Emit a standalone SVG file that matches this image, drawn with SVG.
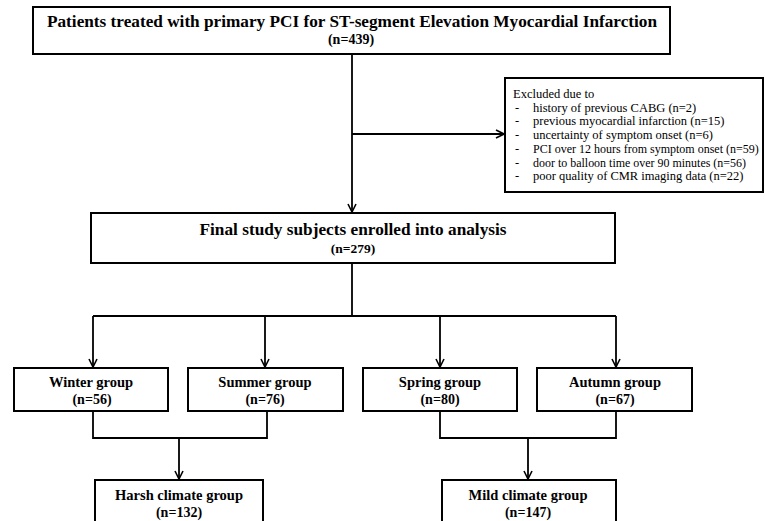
<svg xmlns="http://www.w3.org/2000/svg" width="765" height="521" viewBox="0 0 765 521">
<defs>
<marker id="arr" viewBox="0 0 10 10" refX="9" refY="5" markerWidth="10" markerHeight="10" markerUnits="userSpaceOnUse" orient="auto">
<path d="M1,1 L9,5 L1,9" fill="none" stroke="#000" stroke-width="1.6"/>
</marker>
<style>
.box{fill:#fff;stroke:#000;stroke-width:2}
.ln{fill:none;stroke:#000;stroke-width:1.8}
.t{font-family:"Liberation Serif","Times New Roman",serif;font-weight:bold;text-anchor:middle;fill:#000}
.x{font-family:"Liberation Serif","Times New Roman",serif;font-size:12.5px;fill:#000}
</style>
</defs>
<rect width="765" height="521" fill="#fff"/>
<g id="connectors">
<path class="ln" d="M352,54 V212" marker-end="url(#arr)"/>
<path class="ln" d="M352,134 H504" marker-end="url(#arr)"/>
<path class="ln" d="M352,263 V316"/>
<path class="ln" d="M93,316 H616"/>
<path class="ln" d="M93,316 V367" marker-end="url(#arr)"/>
<path class="ln" d="M265,316 V367" marker-end="url(#arr)"/>
<path class="ln" d="M440,316 V367" marker-end="url(#arr)"/>
<path class="ln" d="M616,316 V367" marker-end="url(#arr)"/>
<path class="ln" d="M93,411 V438 H267 V411"/>
<path class="ln" d="M179,438 V479" marker-end="url(#arr)"/>
<path class="ln" d="M440,411 V438 H616 V411"/>
<path class="ln" d="M528,438 V479" marker-end="url(#arr)"/>
</g>
<g id="top">
<rect class="box" x="33" y="7" width="637" height="47"/>
<text class="t" x="352" y="27" font-size="16.5" textLength="610" lengthAdjust="spacingAndGlyphs">Patients treated with primary PCI for ST-segment Elevation Myocardial Infarction</text>
<text class="t" x="351" y="44" font-size="14">(n=439)</text>
</g>
<g id="excluded">
<rect class="box" x="505" y="78" width="258" height="114"/>
<text class="x" x="513" y="98">Excluded  due to</text>
<text class="x" x="515" y="111.7">-</text><text class="x" x="533" y="111.7">history of previous CABG  (n=2)</text>
<text class="x" x="515" y="125.4">-</text><text class="x" x="533" y="125.4">previous myocardial  infarction (n=15)</text>
<text class="x" x="515" y="139">-</text><text class="x" x="533" y="139">uncertainty of  symptom  onset (n=6)</text>
<text class="x" x="515" y="152.8">-</text><text class="x" x="533" y="152.8" style="font-size:12px">PCI over 12 hours from symptom onset (n=59)</text>
<text class="x" x="515" y="166.5">-</text><text class="x" x="533" y="166.5" textLength="213" lengthAdjust="spacingAndGlyphs">door to balloon  time  over 90 minutes (n=56)</text>
<text class="x" x="515" y="180.2">-</text><text class="x" x="533" y="180.2">poor quality of CMR imaging  data (n=22)</text>
</g>
<g id="final">
<rect class="box" x="91" y="213" width="524" height="50"/>
<text class="t" x="353" y="235" font-size="16" textLength="307" lengthAdjust="spacingAndGlyphs">Final study subjects enrolled into analysis</text>
<text class="t" x="353" y="253" font-size="13.5">(n=279)</text>
</g>
<g id="winter">
<rect class="box" x="14" y="368" width="154" height="43"/>
<text class="t" x="91" y="387" font-size="14.5">Winter  group</text>
<text class="t" x="92" y="404" font-size="14">(n=56)</text>
</g>
<g id="summer">
<rect class="box" x="188" y="368" width="155" height="43"/>
<text class="t" x="265" y="387" font-size="14.5">Summer  group</text>
<text class="t" x="265" y="404" font-size="14">(n=76)</text>
</g>
<g id="spring">
<rect class="box" x="363" y="368" width="154" height="43"/>
<text class="t" x="440" y="387" font-size="14.5">Spring  group</text>
<text class="t" x="440" y="404" font-size="14">(n=80)</text>
</g>
<g id="autumn">
<rect class="box" x="537" y="368" width="155" height="43"/>
<text class="t" x="615" y="387" font-size="14.5">Autumn  group</text>
<text class="t" x="615" y="404" font-size="14">(n=67)</text>
</g>
<g id="harsh">
<rect class="box" x="95" y="480" width="168" height="50"/>
<text class="t" x="179" y="500" font-size="14.5" textLength="128" lengthAdjust="spacingAndGlyphs">Harsh climate group</text>
<text class="t" x="179" y="517" font-size="14">(n=132)</text>
</g>
<g id="mild">
<rect class="box" x="442" y="480" width="174" height="50"/>
<text class="t" x="528" y="500" font-size="14.5">Mild climate group</text>
<text class="t" x="528" y="517" font-size="14">(n=147)</text>
</g>
</svg>
